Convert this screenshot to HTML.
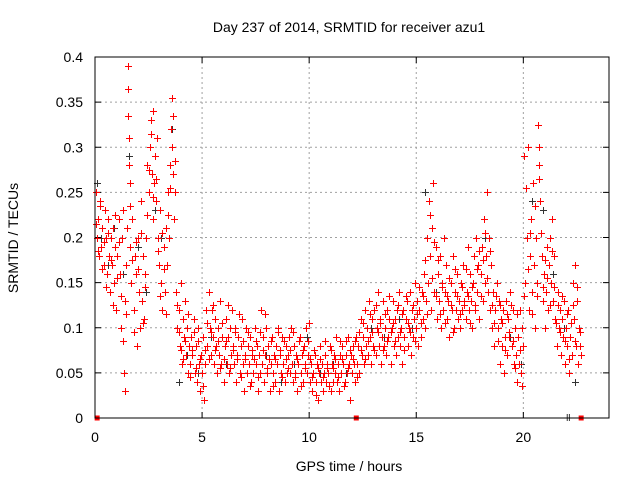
<!DOCTYPE html>
<html><head><meta charset="utf-8"><style>
body{margin:0;background:#fff;}
svg{display:block;font-family:"Liberation Sans",sans-serif;}
</style></head><body>
<svg id="chart" width="640" height="480"></svg>
<script>
const xTicks=[0,5,10,15,20];
const yTicks=[0,0.05,0.1,0.15,0.2,0.25,0.3,0.35,0.4];
const yTickLabels=["0","0.05","0.1","0.15","0.2","0.25","0.3","0.35","0.4"];
const redT=[0.05,0.1,0.15,0.2,0.25,0.3,0.35,0.4,0.45,0.5,0.55,0.6,0.65,0.7,0.75,0.8,0.85,0.9,0.95,1.0,1.05,1.1,1.15,1.2,1.25,1.3,1.35,1.38,1.4,1.45,1.5,1.52,1.55,1.58,1.6,1.62,1.65,1.7,1.75,1.8,1.85,1.9,1.95,2.0,2.05,2.1,2.15,2.2,2.25,2.3,2.35,2.4,2.45,2.5,2.55,2.6,2.65,2.7,2.72,2.75,2.8,2.85,2.9,2.95,3.0,3.05,3.1,3.15,3.2,3.25,3.3,3.35,3.4,3.45,3.5,3.55,3.58,3.6,3.65,3.7,3.75,3.8,3.85,3.9,3.95,4.0,4.05,4.1,4.15,4.2,4.25,4.3,4.35,4.4,4.45,4.5,4.55,4.6,4.65,4.7,4.75,4.8,4.85,4.9,4.95,5.0,5.05,5.1,5.15,5.2,5.25,5.3,5.35,5.4,5.45,5.5,5.55,5.6,5.65,5.7,5.75,5.8,5.85,5.9,5.95,6.0,6.05,6.1,6.15,6.2,6.25,6.3,6.35,6.4,6.45,6.5,6.55,6.6,6.65,6.7,6.75,6.8,6.85,6.9,6.95,7.0,7.05,7.1,7.15,7.2,7.25,7.3,7.35,7.4,7.45,7.5,7.55,7.6,7.65,7.7,7.75,7.8,7.85,7.9,7.95,8.0,8.05,8.1,8.15,8.2,8.25,8.3,8.35,8.4,8.45,8.5,8.55,8.6,8.65,8.7,8.75,8.8,8.85,8.9,8.95,9.0,9.05,9.1,9.15,9.2,9.25,9.3,9.35,9.4,9.45,9.5,9.55,9.6,9.65,9.7,9.75,9.8,9.85,9.9,9.95,10.0,10.05,10.1,10.15,10.2,10.25,10.3,10.35,10.4,10.45,10.5,10.55,10.6,10.65,10.7,10.75,10.8,10.85,10.9,10.95,11.0,11.05,11.1,11.15,11.2,11.25,11.3,11.35,11.4,11.45,11.5,11.55,11.6,11.65,11.7,11.75,11.8,11.85,11.9,11.95,12.0,12.05,12.1,12.15,12.2,12.25,12.3,12.35,12.4,12.45,12.5,12.55,12.6,12.65,12.7,12.75,12.8,12.85,12.9,12.95,13.0,13.05,13.1,13.15,13.2,13.25,13.3,13.35,13.4,13.45,13.5,13.55,13.6,13.65,13.7,13.75,13.8,13.85,13.9,13.95,14.0,14.05,14.1,14.15,14.2,14.25,14.3,14.35,14.4,14.45,14.5,14.55,14.6,14.65,14.7,14.75,14.8,14.85,14.9,14.95,15.0,15.05,15.1,15.15,15.2,15.25,15.3,15.35,15.4,15.45,15.5,15.55,15.6,15.65,15.7,15.75,15.8,15.85,15.9,15.95,16.0,16.05,16.1,16.15,16.2,16.25,16.3,16.35,16.4,16.45,16.5,16.55,16.6,16.65,16.7,16.75,16.8,16.85,16.9,16.95,17.0,17.05,17.1,17.15,17.2,17.25,17.3,17.35,17.4,17.45,17.5,17.55,17.6,17.65,17.7,17.75,17.8,17.85,17.9,17.95,18.0,18.05,18.1,18.15,18.2,18.25,18.3,18.35,18.4,18.45,18.5,18.55,18.6,18.65,18.7,18.75,18.8,18.85,18.9,18.95,19.0,19.05,19.1,19.15,19.2,19.25,19.3,19.35,19.4,19.45,19.5,19.55,19.6,19.65,19.7,19.75,19.8,19.85,19.9,19.95,20.0,20.05,20.1,20.15,20.2,20.25,20.3,20.35,20.4,20.45,20.5,20.55,20.6,20.65,20.7,20.72,20.75,20.8,20.85,20.9,20.95,21.0,21.05,21.1,21.15,21.2,21.25,21.3,21.35,21.4,21.45,21.5,21.55,21.6,21.65,21.7,21.75,21.8,21.85,21.9,21.95,22.0,22.05,22.1,22.15,22.2,22.25,22.3,22.35,22.4,22.45,22.5,22.55,22.6,22.65,22.7];
const redV=[.25,.2,.22,.18,.24,.19,.21,.17,.23,.2,.16,.22,.18,.14,.2,.17,.21,.15,.19,.12,.18,.22,.16,.1,.2,.23,.05,.03,.13,.17,.21,.39,.365,.31,.28,.26,.19,.15,.22,.12,.18,.16,.08,.2,.14,.1,.24,.13,.18,.11,.16,.2,.28,.25,.3,.33,.27,.34,.22,.26,.29,.24,.31,.2,.17,.23,.15,.12,.19,.14,.21,.17,.25,.2,.28,.32,.355,.3,.27,.22,.25,.14,.1,.12,.08,.15,.06,.11,.09,.13,.07,.1,.05,.08,.06,.09,.07,.11,.05,.08,.04,.1,.06,.03,.07,.05,.09,.02,.06,.12,.08,.14,.1,.07,.12,.09,.06,.11,.08,.05,.1,.07,.13,.06,.09,.04,.08,.11,.06,.09,.05,.1,.07,.12,.08,.06,.1,.04,.07,.09,.05,.08,.11,.06,.03,.07,.1,.05,.08,.06,.09,.04,.07,.05,.1,.06,.08,.03,.07,.05,.12,.06,.09,.04,.07,.1,.05,.08,.03,.06,.09,.05,.07,.04,.08,.06,.1,.03,.07,.05,.09,.06,.04,.08,.05,.07,.09,.05,.1,.06,.04,.08,.05,.07,.03,.06,.09,.05,.07,.04,.08,.06,.1,.05,.07,.105,.04,.06,.03,.05,.07,.04,.06,.02,.05,.08,.04,.06,.03,.05,.07,.04,.06,.05,.08,.03,.06,.04,.07,.05,.09,.04,.06,.03,.07,.05,.08,.06,.04,.07,.05,.09,.06,.02,.07,.05,.08,.06,.04,.09,.06,.08,.05,.11,.07,.09,.06,.12,.08,.1,.07,.13,.09,.06,.11,.08,.12,.07,.1,.14,.08,.11,.06,.09,.13,.08,.1,.07,.12,.09,.11,.06,.1,.13,.08,.11,.07,.12,.09,.14,.08,.1,.06,.12,.09,.11,.13,.08,.1,.14,.07,.12,.09,.11,.15,.1,.13,.08,.12,.09,.14,.11,.16,.1,.13,.2,.15,.24,.18,.12,.21,.26,.14,.19,.11,.16,.13,.18,.1,.15,.12,.2,.14,.17,.11,.13,.09,.15,.12,.18,.1,.14,.12,.16,.11,.13,.1,.15,.12,.17,.13,.11,.14,.19,.12,.16,.13,.1,.15,.18,.12,.2,.14,.17,.11,.16,.19,.13,.22,.15,.18,.25,.14,.2,.12,.17,.1,.14,.08,.12,.15,.1,.13,.06,.11,.08,.12,.05,.09,.13,.07,.11,.09,.14,.08,.12,.06,.1,.07,.04,.09,.06,.12,.05,.1,.08,.29,.15,.2,.3,.12,.18,.22,.14,.26,.17,.1,.2,.15,.325,.3,.28,.24,.18,.13,.16,.1,.14,.19,.12,.17,.2,.15,.22,.13,.18,.11,.08,.14,.1,.12,.07,.11,.09,.13,.06,.1,.08,.12,.05,.09,.07,.15,.11,.17,.08,.13,.06,.1,.08,.07];
const redT2=[0.025,0.125,0.225,0.325,0.425,0.525,0.625,0.725,0.825,0.925,1.025,1.125,1.225,1.325,1.425,1.525,1.625,1.725,1.825,1.925,2.025,2.125,2.225,2.325,2.425,2.525,2.625,2.725,2.825,2.925,3.025,3.125,3.225,3.325,3.425,3.525,3.625,3.725,3.825,3.925,4.025,4.125,4.225,4.325,4.425,4.525,4.625,4.725,4.825,4.925,5.025,5.125,5.225,5.325,5.425,5.525,5.625,5.725,5.825,5.925,6.025,6.125,6.225,6.325,6.425,6.525,6.625,6.725,6.825,6.925,7.025,7.125,7.225,7.325,7.425,7.525,7.625,7.725,7.825,7.925,8.025,8.125,8.225,8.325,8.425,8.525,8.625,8.725,8.825,8.925,9.025,9.125,9.225,9.325,9.425,9.525,9.625,9.725,9.825,9.925,10.025,10.125,10.225,10.325,10.425,10.525,10.625,10.725,10.825,10.925,11.025,11.125,11.225,11.325,11.425,11.525,11.625,11.725,11.825,11.925,12.025,12.125,12.225,12.325,12.425,12.525,12.625,12.725,12.825,12.925,13.025,13.125,13.225,13.325,13.425,13.525,13.625,13.725,13.825,13.925,14.025,14.125,14.225,14.325,14.425,14.525,14.625,14.725,14.825,14.925,15.025,15.125,15.225,15.325,15.425,15.525,15.625,15.725,15.825,15.925,16.025,16.125,16.225,16.325,16.425,16.525,16.625,16.725,16.825,16.925,17.025,17.125,17.225,17.325,17.425,17.525,17.625,17.725,17.825,17.925,18.025,18.125,18.225,18.325,18.425,18.525,18.625,18.725,18.825,18.925,19.025,19.125,19.225,19.325,19.425,19.525,19.625,19.725,19.825,19.925,20.025,20.125,20.225,20.325,20.425,20.525,20.625,20.725,20.825,20.925,21.025,21.125,21.225,21.325,21.425,21.525,21.625,21.725,21.825,21.925,22.025,22.125,22.225,22.325,22.425,22.525,22.625];
const redV2=[.215,.185,.235,.165,.195,.145,.205,.175,.125,.225,.155,.195,.135,.085,.115,.335,.235,.175,.095,.195,.165,.205,.105,.145,.225,.275,.315,.245,.265,.185,.135,.205,.165,.115,.225,.255,.335,.285,.125,.095,.075,.065,.085,.115,.045,.075,.095,.055,.085,.065,.035,.075,.105,.065,.095,.125,.075,.085,.055,.105,.065,.085,.125,.055,.075,.095,.065,.115,.045,.085,.065,.095,.035,.075,.065,.085,.045,.095,.075,.115,.055,.065,.085,.035,.065,.095,.075,.045,.085,.065,.055,.075,.095,.045,.065,.085,.035,.075,.055,.085,.065,.045,.075,.025,.055,.065,.045,.085,.055,.035,.075,.055,.065,.045,.085,.065,.035,.085,.055,.075,.065,.085,.045,.095,.075,.105,.065,.085,.115,.095,.075,.125,.095,.105,.075,.115,.085,.135,.095,.105,.085,.125,.095,.115,.075,.135,.105,.095,.125,.085,.115,.145,.105,.135,.175,.115,.225,.155,.195,.135,.175,.115,.145,.105,.135,.155,.125,.095,.165,.135,.115,.145,.125,.165,.135,.105,.145,.125,.165,.185,.135,.175,.205,.155,.185,.125,.105,.135,.085,.125,.105,.075,.115,.095,.125,.085,.055,.115,.075,.035,.135,.255,.165,.205,.115,.235,.135,.265,.205,.145,.175,.155,.125,.185,.145,.105,.125,.095,.135,.085,.115,.065,.105,.125,.085,.145,.095];
const blackT=[0.1,0.3,0.6,0.9,1.3,1.6,2.0,2.4,2.8,3.1,3.6,3.9,4.3,4.8,5.4,6.1,6.8,7.4,8.0,8.7,9.3,9.9,10.5,11.1,11.7,12.3,12.9,13.5,14.2,14.8,15.4,15.9,16.5,17.1,17.7,18.2,18.8,19.4,19.9,20.4,20.9,21.4,21.9,22.4];
const blackV=[.26,.2,.17,.21,.16,.29,.19,.14,.23,.2,.32,.04,.07,.05,.09,.06,.08,.05,.07,.04,.06,.09,.05,.06,.05,.08,.1,.09,.11,.1,.25,.14,.13,.15,.18,.2,.1,.09,.06,.24,.23,.16,.1,.04];
const zeroT=[0.1,12.2,22.7];
const zeroBlackT=[22.05,22.15];

const L=95,R=609,T=57,B=418,XMAX=24,YMAX=0.4;
const xs=t=>L+(R-L)*t/XMAX;
const ys=v=>B-(B-T)*v/YMAX;
const NS="http://www.w3.org/2000/svg";
const svg=document.getElementById('chart');
function mk(tag,attrs,parent){const e=document.createElementNS(NS,tag);for(const k in attrs)e.setAttribute(k,attrs[k]);(parent||svg).appendChild(e);return e;}

const grid=mk('g',{stroke:'#a0a0a0','stroke-width':1,'stroke-dasharray':'2,3'});


xTicks.forEach(t=>{if(t>0)mk('line',{x1:xs(t),x2:xs(t),y1:T,y2:B},grid);});
yTicks.forEach(v=>{if(v>0&&v<YMAX)mk('line',{x1:L,x2:R,y1:ys(v),y2:ys(v)},grid);});

const ticks=mk('g',{stroke:'#000','stroke-width':1});
xTicks.forEach(t=>{mk('line',{x1:xs(t),x2:xs(t),y1:B,y2:B-6},ticks);mk('line',{x1:xs(t),x2:xs(t),y1:T,y2:T+6},ticks);});
yTicks.forEach(v=>{mk('line',{x1:L,x2:L+6,y1:ys(v),y2:ys(v)},ticks);mk('line',{x1:R,x2:R-6,y1:ys(v),y2:ys(v)},ticks);});

function plus(g,t,v){const x=Math.round(xs(t))+0.5,y=Math.round(ys(v))+0.5;mk('path',{d:`M${x-3.5} ${y}H${x+3.5}M${x} ${y-3.5}V${y+3.5}`},g);}
const gb=mk('g',{stroke:'#333','stroke-width':1,fill:'none'});


blackT.forEach((t,i)=>plus(gb,t,blackV[i]));
zeroBlackT.forEach(t=>mk('line',{x1:xs(t),x2:xs(t),y1:B-4,y2:B+3},gb));
const gr=mk('g',{stroke:'#ff0000','stroke-width':1,fill:'none'});


redT.forEach((t,i)=>plus(gr,t,redV[i]));
redT2.forEach((t,i)=>plus(gr,t,redV2[i]));
zeroT.forEach(t=>mk('rect',{x:xs(t)-2.5,y:B-2.5,width:5,height:5,fill:'#ff0000',stroke:'none'},gr));

const frame=mk('rect',{x:L,y:T,width:R-L,height:B-T,fill:'none',stroke:'#000','stroke-width':1});



const xl=mk('g',{'font-size':14,'text-anchor':'middle',fill:'#000'});


xTicks.forEach(t=>{const e=mk('text',{x:xs(t),y:B+24},xl);e.textContent=String(t);});
const yl=mk('g',{'font-size':14,'text-anchor':'end',fill:'#000'});


yTicks.forEach((v,i)=>{const e=mk('text',{x:L-12,y:ys(v)+5},yl);e.textContent=yTickLabels[i];});

const title=mk('text',{x:349,y:32,'font-size':14,'text-anchor':'middle'});
title.textContent='Day 237 of 2014, SRMTID for receiver azu1';


const xt=mk('text',{x:349,y:471,'font-size':14,'text-anchor':'middle'});
xt.textContent='GPS time / hours';


const yt=mk('text',{x:18,y:238,'font-size':14,'text-anchor':'middle',transform:'rotate(-90 18 238)'});
yt.textContent='SRMTID / TECUs';


</script>
</body></html>
